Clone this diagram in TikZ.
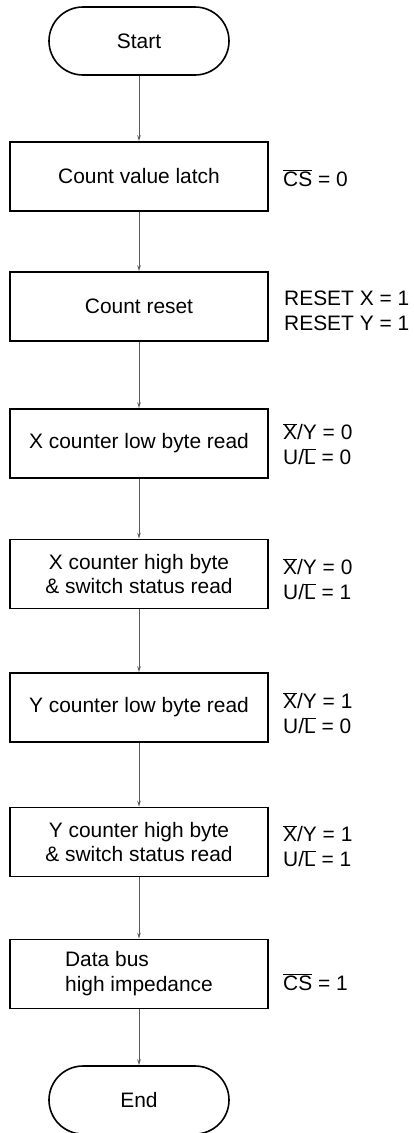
\documentclass[tikz,border=0pt]{standalone}
\usepackage{fontspec}
\setmainfont{Liberation Sans}
\usetikzlibrary{arrows.meta}
\newcommand\ovbar[1]{$\overline{\mbox{#1}}$}
\begin{document}
\begin{tikzpicture}[x=1bp,y=-1bp,
  every node/.style={font=\fontsize{21}{25}\selectfont},
  procbox/.style={draw, line width=1.6bp, minimum width=258bp, minimum height=69bp, inner sep=0pt, align=center},
  termbox/.style={draw, line width=1.6bp, rounded corners=34bp, minimum width=180bp, minimum height=68bp, inner sep=0pt},
  sig/.style={anchor=west, inner sep=0pt, align=left},
  flow/.style={draw=black!65, line width=1bp, -{Stealth[length=6bp,width=3.5bp]}}]
\useasboundingbox (0,0) rectangle (413,1133);
\node[termbox] (start) at (139,41) {Start};
\node[procbox] (b1) at (139,176.5) {Count value latch};
\node[procbox] (b2) at (139,306.5) {Count reset};
\node[procbox] (b3) at (139,443.5) {X counter low byte read};
\node[procbox] (b4) at (139,574) {X counter high byte\\\& switch status read};
\node[procbox] (b5) at (139,707.5) {Y counter low byte read};
\node[procbox] (b6) at (139,842) {Y counter high byte\\\& switch status read};
\node[procbox] (b7) at (139,974) {\begin{tabular}{@{}l@{}}Data bus\\high impedance\end{tabular}};
\node[termbox] (end) at (139,1100) {End};

\node[sig] (l1) at (283,178) {\ovbar{CS} = 0};
\node[sig] (l2) at (284,311) {RESET X = 1\\RESET Y = 1};
\node[sig] (l3) at (283,444) {\ovbar{X}/Y = 0\\U/\ovbar{L} = 0};
\node[sig] (l4) at (283,579) {\ovbar{X}/Y = 0\\U/\ovbar{L} = 1};
\node[sig] (l5) at (283,713) {\ovbar{X}/Y = 1\\U/\ovbar{L} = 0};
\node[sig] (l6) at (283,846) {\ovbar{X}/Y = 1\\U/\ovbar{L} = 1};
\node[sig] (l7) at (283,982) {\ovbar{CS} = 1};

\draw[flow] (start) -- (b1);
\draw[flow] (b1) -- (b2);
\draw[flow] (b2) -- (b3);
\draw[flow] (b3) -- (b4);
\draw[flow] (b4) -- (b5);
\draw[flow] (b5) -- (b6);
\draw[flow] (b6) -- (b7);
\draw[flow] (b7) -- (end);
\end{tikzpicture}
\end{document}
